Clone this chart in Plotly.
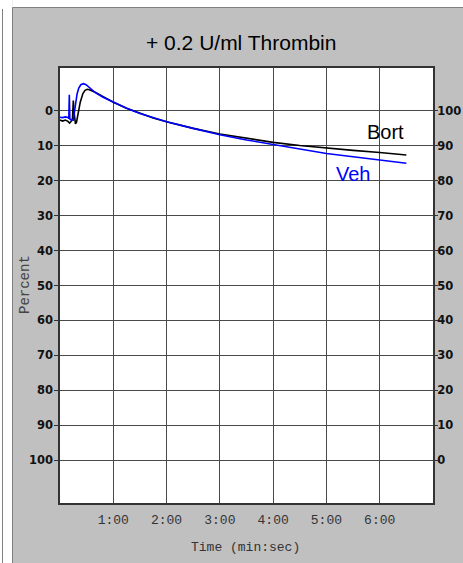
import plotly.graph_objects as go

# ---------------- data (time in minutes, left-axis percent) ----------------
bort_t = [0, 0.05, 0.1, 0.15, 0.18, 0.2, 0.22, 0.235, 0.25, 0.265, 0.29, 0.31, 0.34,
          0.38, 0.43, 0.47, 0.51, 0.55, 0.65, 0.8, 0.91, 1.0, 1.25, 1.5, 1.75, 2.0,
          2.5, 3.0, 3.5, 4.0, 4.5, 5.0, 5.5, 6.0, 6.5]
bort_v = [2.6, 2.9, 2.6, 3.0, 3.5, 3.2, 2.8, 2.0, -3.0, 0.5, 3.7, 3.2, 0.5,
          -2.5, -5.0, -5.9, -6.2, -6.1, -5.4, -4.1, -3.3, -2.5, -0.8, 0.7, 2.0, 3.1,
          5.0, 6.6, 7.9, 9.0, 9.9, 10.7, 11.3, 11.9, 12.6]

veh_t = [0, 0.05, 0.1, 0.15, 0.165, 0.175, 0.185, 0.2, 0.25, 0.27, 0.29, 0.32, 0.35,
         0.39, 0.44, 0.49, 0.55, 0.65, 0.8, 1.0, 1.25, 1.5, 1.75, 2.0,
         2.5, 3.0, 3.5, 4.0, 4.5, 5.0, 5.5, 6.0, 6.5]
veh_v = [1.8, 1.9, 1.7, 1.9, 2.2, -4.6, 2.3, 2.5, 2.6, 1.0, -1.7, -4.8, -6.5,
         -7.5, -7.8, -7.5, -6.8, -5.4, -4.0, -2.5, -0.8, 0.7, 2.0, 3.1,
         5.0, 6.8, 8.3, 9.6, 10.9, 12.2, 13.1, 14.0, 15.0]

x_tickvals = [1, 2, 3, 4, 5, 6]
x_ticktext = ["1:00", "2:00", "3:00", "4:00", "5:00", "6:00"]
y_ticks = [0, 10, 20, 30, 40, 50, 60, 70, 80, 90, 100]

title_text = "+ 0.2 U/ml Thrombin"
x_title = "Time (min:sec)"
y_title = "Percent"

# ---------------- figure ----------------
W, H = 463, 563
L, R, T, B = 60, 30, 68, 60
pw, ph = W - L - R, H - T - B


def px(x):
    return (x - L) / pw


def py(y):
    return (H - B - y) / ph


fig = go.Figure()
fig.add_trace(go.Scatter(x=bort_t, y=bort_v, mode="lines",
                         line=dict(color="black", width=1.6), showlegend=False))
fig.add_trace(go.Scatter(x=veh_t, y=veh_v, mode="lines",
                         line=dict(color="#0000ff", width=1.6), showlegend=False))
fig.add_trace(go.Scatter(x=[3], y=[50], yaxis="y2", mode="markers",
                         marker=dict(opacity=0), hoverinfo="skip", showlegend=False))

grid = "#4a4a4a"
tickfont_y = dict(family="DejaVu Sans", size=11.5, color="#111", weight="bold")
mono = "Liberation Mono"

fig.update_layout(
    width=W, height=H,
    margin=dict(l=L, r=R, t=T, b=B, pad=0, autoexpand=False),
    paper_bgcolor="#c0c0c0",
    plot_bgcolor="white",
    xaxis=dict(range=[0, 7], tickvals=x_tickvals, ticktext=x_ticktext,
               automargin=False,
               showgrid=True, gridcolor=grid, gridwidth=1, zeroline=False,
               showline=True, mirror=True, linecolor="#333", linewidth=1.5,
               ticks="outside", ticklen=4, tickcolor="rgba(0,0,0,0)",
               tickfont=dict(family=mono, size=13, color="#333")),
    yaxis=dict(range=[112.3, -12.3], tickvals=y_ticks, automargin=False,
               showgrid=True, gridcolor=grid, gridwidth=1, zeroline=False,
               showline=True, mirror=True, linecolor="#333", linewidth=1.5,
               ticks="outside", ticklen=4, tickcolor="#333",
               ticklabelstandoff=-1,
               tickfont=tickfont_y),
    yaxis2=dict(range=[-12.3, 112.3], tickvals=y_ticks, overlaying="y", side="right",
                automargin=False,
                showgrid=False, zeroline=False, showline=False,
                ticks="outside", ticklen=4, tickcolor="#333",
                ticklabelstandoff=-3,
                tickfont=tickfont_y),
    annotations=[
        dict(text=title_text, xref="paper", yref="paper", x=px(241), y=py(42),
             xanchor="center", yanchor="middle", showarrow=False,
             font=dict(family="Liberation Sans", size=21, color="black")),
        dict(text=x_title, xref="paper", yref="paper", x=px(245), y=py(547),
             xanchor="center", yanchor="middle", showarrow=False,
             font=dict(family=mono, size=13, color="#333")),
        dict(text=y_title, xref="paper", yref="paper", x=px(25), y=py(285),
             xanchor="center", yanchor="middle", showarrow=False, textangle=-90,
             font=dict(family=mono, size=14, color="#444")),
        dict(text="Bort", xref="x", yref="y", x=6.11, y=6.0,
             xanchor="center", yanchor="middle", showarrow=False,
             font=dict(family="Liberation Sans", size=20, color="black")),
        dict(text="Veh", xref="x", yref="y", x=5.5, y=18.0,
             xanchor="center", yanchor="middle", showarrow=False,
             font=dict(family="Liberation Sans", size=20, color="#0000ff")),
    ],
    shapes=[
        dict(type="rect", xref="paper", yref="paper", x0=px(0), x1=px(12.5),
             y0=py(H), y1=py(0), fillcolor="white", line=dict(width=0), layer="above"),
        dict(type="rect", xref="paper", yref="paper", x0=px(12.5), x1=px(W),
             y0=py(7.5), y1=py(0), fillcolor="white", line=dict(width=0), layer="above"),
        dict(type="line", xref="paper", yref="paper", x0=px(2.5), x1=px(2.5),
             y0=py(9), y1=py(H), line=dict(color="#808080", width=1), layer="above"),
        dict(type="line", xref="paper", yref="paper", x0=px(12.5), x1=px(12.5),
             y0=py(7.5), y1=py(H), line=dict(color="#808080", width=1), layer="above"),
        dict(type="line", xref="paper", yref="paper", x0=px(12.5), x1=px(W),
             y0=py(7.5), y1=py(7.5), line=dict(color="#808080", width=1), layer="above"),
    ],
)

fig.write_html("out.html")
